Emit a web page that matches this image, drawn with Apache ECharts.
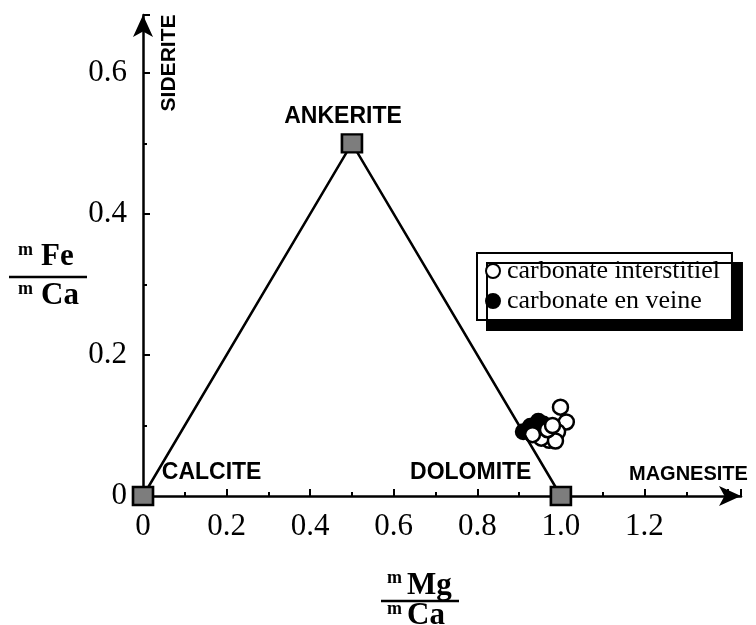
<!DOCTYPE html>
<html>
<head>
<meta charset="utf-8">
<script src="https://cdn.jsdelivr.net/npm/echarts@6/dist/echarts.min.js"></script>
<style>
  html, body { margin: 0; padding: 0; background: #fff; }
  #chart { width: 756px; height: 625px; }
</style>
</head>
<body>
<div id="chart"></div>
<script>
// end members (triangle corners)
const endNames = ['CALCITE', 'ANKERITE', 'DOLOMITE']
const endX = [0, 0.5, 1.0]
const endY = [0, 0.5, 0]

// carbonate interstitiel (open circles)
const interX = [0.999, 1.013, 0.992, 0.972, 0.953, 0.987, 0.968, 0.932, 0.980]
const interY = [0.126, 0.105, 0.091, 0.079, 0.082, 0.078, 0.094, 0.087, 0.100]

// carbonate en veine (filled circles)
const veinX = [0.946, 0.927, 0.910, 0.939, 0.958]
const veinY = [0.106, 0.099, 0.091, 0.094, 0.102]

// mineral labels, anchored in data space
const labelNames = ['CALCITE', 'DOLOMITE', 'MAGNESITE', 'ANKERITE', 'SIDERITE']
const labelX = [0.045, 0.639, 1.163, 0.338, 0.062]
const labelY = [0.033, 0.033, 0.030, 0.538, 0.614]

const xMax = 1.431
const yMax = 0.682

const chart = echarts.init(document.getElementById('chart'))

const serif = 'Liberation Serif'
const tickFmt = v => v === 0 ? '0' : (v > 1.3 ? '' : v.toFixed(1))

const option = {
  animation: false,
  backgroundColor: '#fff',
  grid: { left: 143, right: 15, top: 15, bottom: 129 },
  xAxis: {
    type: 'value', min: 0, max: xMax, interval: 0.2,
    axisLine: { lineStyle: { color: '#000', width: 2.5 }, symbol: ['none', 'arrow'], symbolSize: [15, 22] },
    axisTick: { inside: true, length: 7, lineStyle: { color: '#000', width: 2 } },
    minorTick: { show: true, splitNumber: 2, length: 4, lineStyle: { color: '#000', width: 2 } },
    splitLine: { show: false },
    axisLabel: { margin: 15, color: '#000', fontFamily: serif, fontSize: 31, formatter: tickFmt, showMaxLabel: false }
  },
  yAxis: {
    type: 'value', min: 0, max: yMax, interval: 0.2,
    axisLine: { lineStyle: { color: '#000', width: 2.5 }, symbol: ['none', 'arrow'], symbolSize: [15, 22] },
    axisTick: { inside: true, length: 7, lineStyle: { color: '#000', width: 2 } },
    minorTick: { show: true, splitNumber: 2, length: 4, lineStyle: { color: '#000', width: 2 } },
    splitLine: { show: false },
    axisLabel: { margin: 16, color: '#000', fontFamily: serif, fontSize: 31, formatter: tickFmt, showMaxLabel: false }
  },
  legend: {
    orient: 'vertical', left: 477, top: 253,
    data: ['carbonate interstitiel', 'carbonate en veine'],
    icon: 'circle', itemWidth: 14, itemHeight: 14, itemGap: 4,
    padding: [5, 12, 6, 8],
    backgroundColor: '#fff', borderColor: '#000', borderWidth: 2,
    shadowColor: '#000', shadowOffsetX: 10, shadowOffsetY: 10, shadowBlur: 0,
    textStyle: { fontFamily: serif, fontSize: 26, color: '#000', padding: [0, 0, 0, 2] }
  },
  graphic: [
    // y-axis title: mFe / mCa
    { type: 'text', x: 18, y: 250, style: { text: 'm', font: 'bold 18px "Liberation Serif"', fill: '#000', verticalAlign: 'middle' } },
    { type: 'text', x: 41, y: 257, style: { text: 'Fe', font: 'bold 31px "Liberation Serif"', fill: '#000', verticalAlign: 'middle' } },
    { type: 'line', shape: { x1: 9, y1: 277, x2: 87, y2: 277 }, style: { stroke: '#000', lineWidth: 2.5 } },
    { type: 'text', x: 18, y: 289, style: { text: 'm', font: 'bold 18px "Liberation Serif"', fill: '#000', verticalAlign: 'middle' } },
    { type: 'text', x: 41, y: 296, style: { text: 'Ca', font: 'bold 31px "Liberation Serif"', fill: '#000', verticalAlign: 'middle' } },
    // x-axis title: mMg / mCa
    { type: 'text', x: 387, y: 578, style: { text: 'm', font: 'bold 18px "Liberation Serif"', fill: '#000', verticalAlign: 'middle' } },
    { type: 'text', x: 407, y: 586, style: { text: 'Mg', font: 'bold 31px "Liberation Serif"', fill: '#000', verticalAlign: 'middle' } },
    { type: 'line', shape: { x1: 381, y1: 601, x2: 459, y2: 601 }, style: { stroke: '#000', lineWidth: 2.5 } },
    { type: 'text', x: 387, y: 609, style: { text: 'm', font: 'bold 18px "Liberation Serif"', fill: '#000', verticalAlign: 'middle' } },
    { type: 'text', x: 407, y: 616, style: { text: 'Ca', font: 'bold 31px "Liberation Serif"', fill: '#000', verticalAlign: 'middle' } }
  ],
  series: [
    {
      name: 'triangle', type: 'line', symbol: 'none', silent: true,
      lineStyle: { color: '#000', width: 2.5 },
      data: endX.map((x, i) => [x, endY[i]])
    },
    {
      name: 'carbonate en veine', type: 'scatter', symbol: 'circle', symbolSize: 15,
      itemStyle: { color: '#000', borderColor: '#000', borderWidth: 2, opacity: 1 },
      data: veinX.map((x, i) => [x, veinY[i]])
    },
    {
      name: 'carbonate interstitiel', type: 'scatter', symbol: 'circle', symbolSize: 15,
      itemStyle: { color: '#fff', borderColor: '#000', borderWidth: 2.5, opacity: 1 },
      data: interX.map((x, i) => [x, interY[i]])
    },
    {
      name: 'end members', type: 'scatter', symbol: 'rect', symbolSize: [20, 18], z: 5,
      itemStyle: { color: '#7d7d7d', borderColor: '#000', borderWidth: 2.5, opacity: 1 },
      data: endX.map((x, i) => ({ name: endNames[i], value: [x, endY[i]] }))
    },
    {
      name: 'labels', type: 'scatter', symbolSize: 0, silent: true,
      itemStyle: { opacity: 1 },
      label: {
        show: true, position: 'right', distance: 0, formatter: p => p.name,
        fontFamily: 'Liberation Sans', fontWeight: 'bold', fontSize: 23, color: '#000'
      },
      data: labelNames.map((n, i) => {
        const item = { name: n, value: [labelX[i], labelY[i]] }
        if (n === 'SIDERITE') {
          item.label = { position: 'inside', rotate: 90, align: 'center', verticalAlign: 'middle', fontSize: 21 }
        }
        if (n === 'MAGNESITE') {
          item.label = { fontSize: 20 }
        }
        return item
      })
    }
  ]
}

chart.setOption(option)
</script>
</body>
</html>
